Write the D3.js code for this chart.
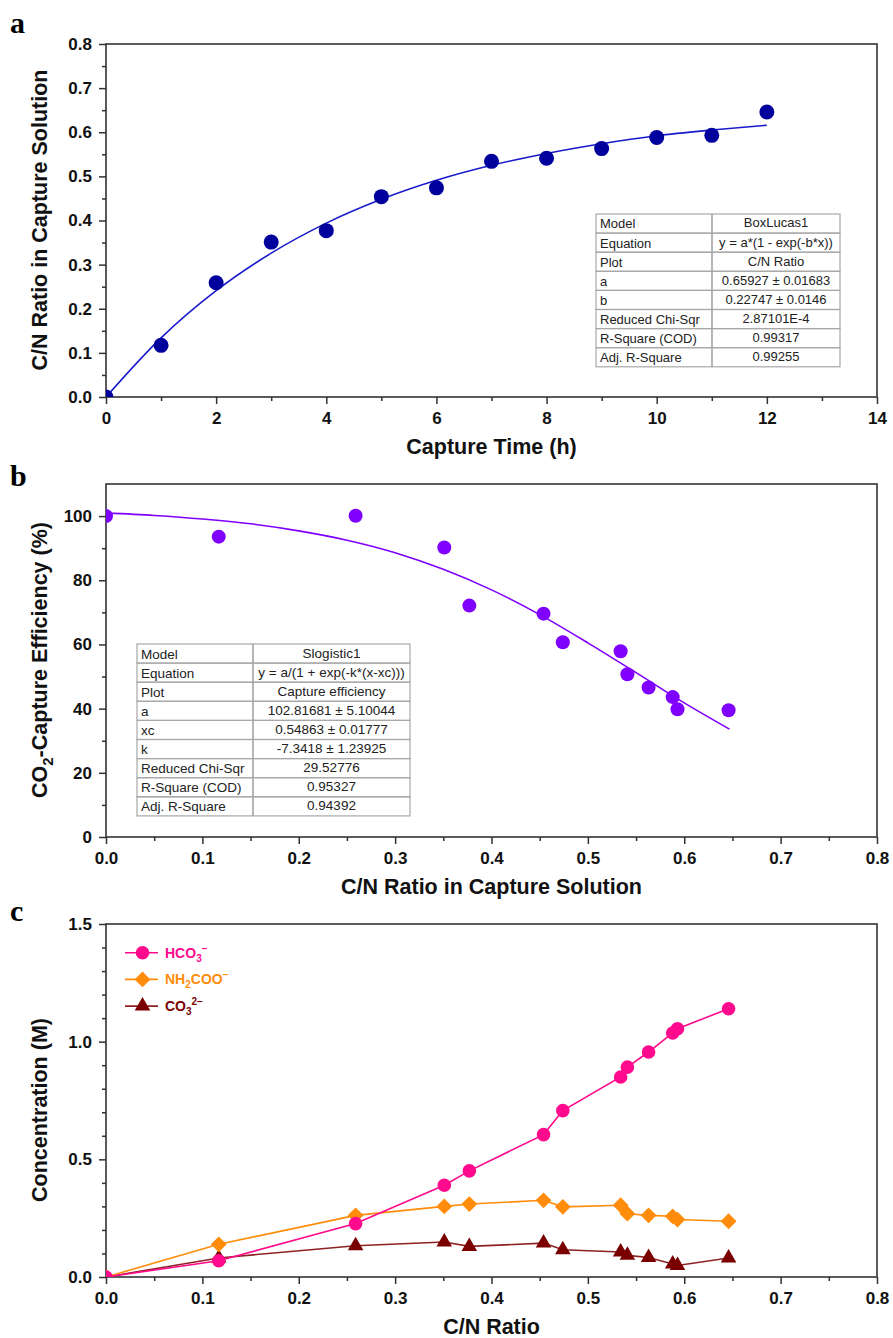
<!DOCTYPE html>
<html>
<head>
<meta charset="utf-8">
<script src="https://cdn.jsdelivr.net/npm/d3@7"></script>
<style>
  body { margin: 0; background: #fff; }
  svg { display: block; font-family: 'Liberation Sans', Arial, sans-serif; }
</style>
</head>
<body>
<div id="chart"></div>
<script>
// ---- panel a : C/N ratio vs capture time
const captureTime = [0, 1, 2, 3, 4, 5, 6, 7, 8, 9, 10, 11, 12]
const cnRatio = [0, 0.117, 0.259, 0.351, 0.377, 0.454, 0.474, 0.534, 0.541, 0.563, 0.588, 0.593, 0.646]
// BoxLucas1 fit
const fitATime = [0, 1, 2, 3, 4, 5, 6, 7, 8, 9, 10, 11, 12]
const fitARatio = [0, 0.134, 0.241, 0.326, 0.394, 0.448, 0.491, 0.525, 0.552, 0.574, 0.592, 0.605, 0.616]
const tableA = [
  ['Model', 'BoxLucas1'],
  ['Equation', 'y = a*(1 - exp(-b*x))'],
  ['Plot', 'C/N Ratio'],
  ['a', '0.65927 \u00b1 0.01683'],
  ['b', '0.22747 \u00b1 0.0146'],
  ['Reduced Chi-Sqr', '2.87101E-4'],
  ['R-Square (COD)', '0.99317'],
  ['Adj. R-Square', '0.99255']
]

// ---- panel b : capture efficiency vs C/N ratio (x = cnRatio)
const efficiency = [100, 93.6, 100.1, 90.2, 72.1, 69.6, 60.7, 57.9, 50.7, 46.6, 43.6, 39.8, 39.5]
// Slogistic1 fit
const fitBRatio = [0, 0.05, 0.1, 0.15, 0.2, 0.25, 0.3, 0.35, 0.4, 0.45, 0.5, 0.55, 0.6, 0.647]
const fitBEff = [101.0, 100.2, 99.1, 97.6, 95.4, 92.5, 88.6, 83.4, 77.0, 69.3, 60.5, 51.2, 41.8, 33.6]
const tableB = [
  ['Model', 'Slogistic1'],
  ['Equation', 'y = a/(1 + exp(-k*(x-xc)))'],
  ['Plot', 'Capture efficiency'],
  ['a', '102.81681 \u00b1 5.10044'],
  ['xc', '0.54863 \u00b1 0.01777'],
  ['k', '-7.3418 \u00b1 1.23925'],
  ['Reduced Chi-Sqr', '29.52776'],
  ['R-Square (COD)', '0.95327'],
  ['Adj. R-Square', '0.94392']
]

// ---- panel c : species concentration vs C/N ratio (x = cnRatio)
const hco3 = [0, 0.069, 0.227, 0.390, 0.451, 0.605, 0.707, 0.850, 0.892, 0.956, 1.037, 1.055, 1.140]
const nh2coo = [0, 0.139, 0.262, 0.300, 0.310, 0.326, 0.298, 0.305, 0.269, 0.262, 0.258, 0.244, 0.237]
const co3 = [0, 0.081, 0.133, 0.149, 0.130, 0.144, 0.116, 0.106, 0.092, 0.083, 0.055, 0.049, 0.081]

const width = 893
const height = 1338
const left = 106
const right = 877
const panelHeight = 353
const frameColor = '#333'

const svg = d3
  .select('#chart')
  .append('svg')
  .attr('width', width)
  .attr('height', height)

function drawPanel(opts) {
  const g = svg.append('g').attr('transform', 'translate(0,' + opts.top + ')')
  const x = d3.scaleLinear().domain(opts.xDomain).range([left, right])
  const y = d3.scaleLinear().domain(opts.yDomain).range([panelHeight, 0])

  g.append('clipPath')
    .attr('id', 'clip-' + opts.letter)
    .append('rect')
    .attr('x', left)
    .attr('y', 0)
    .attr('width', right - left)
    .attr('height', panelHeight)

  // minor ticks
  g.append('g')
    .attr('transform', 'translate(0,' + panelHeight + ')')
    .call(d3.axisBottom(x).tickValues(opts.xMinor).tickSize(4).tickFormat(''))
  g.append('g')
    .attr('transform', 'translate(' + left + ',0)')
    .call(d3.axisLeft(y).tickValues(opts.yMinor).tickSize(4).tickFormat(''))

  g.append('g')
    .attr('class', 'axis')
    .attr('transform', 'translate(0,' + panelHeight + ')')
    .call(d3.axisBottom(x).tickValues(opts.xMajor).tickSize(7).tickPadding(8).tickFormat(opts.xFormat))
  g.append('g')
    .attr('class', 'axis')
    .attr('transform', 'translate(' + left + ',0)')
    .call(d3.axisLeft(y).tickValues(opts.yMajor).tickSize(7).tickPadding(7).tickFormat(opts.yFormat))

  g.selectAll('.domain').remove()
  g.selectAll('.tick line').attr('stroke', frameColor).attr('stroke-width', 1.5)
  g.selectAll('.axis text')
    .attr('font-size', 17)
    .attr('font-weight', 'bold')
    .attr('fill', '#111')
    .attr('font-family', "'Liberation Sans', Arial, sans-serif")

  g.append('rect')
    .attr('x', left)
    .attr('y', 0)
    .attr('width', right - left)
    .attr('height', panelHeight)
    .attr('fill', 'none')
    .attr('stroke', frameColor)
    .attr('stroke-width', 1.6)

  // panel letter
  g.append('text')
    .attr('x', 10)
    .attr('y', opts.letterY)
    .attr('font-family', "'Liberation Serif', 'Times New Roman', serif")
    .attr('font-weight', 'bold')
    .attr('font-size', 30)
    .text(opts.letter)

  // x title
  g.append('text')
    .attr('x', (left + right) / 2)
    .attr('y', panelHeight + 57)
    .attr('text-anchor', 'middle')
    .attr('font-size', 21.5)
    .attr('font-weight', 'bold')
    .attr('fill', '#111')
    .text(opts.xTitle)

  return { g, x, y }
}

function drawTable(g, rows, box) {
  const t = g.append('g')
  t.append('rect')
    .attr('x', box.x)
    .attr('y', box.y)
    .attr('width', box.w)
    .attr('height', box.rowH * rows.length)
    .attr('fill', '#fff')
  const row = t
    .selectAll('.row')
    .data(rows)
    .enter()
    .append('g')
    .attr('transform', (d, i) => 'translate(0,' + (box.y + i * box.rowH) + ')')
  row.append('rect')
    .attr('x', box.x)
    .attr('width', box.split - box.x)
    .attr('height', box.rowH)
    .attr('fill', 'none')
    .attr('stroke', '#a8a8a8')
    .attr('stroke-width', 1.2)
  row.append('rect')
    .attr('x', box.split)
    .attr('width', box.x + box.w - box.split)
    .attr('height', box.rowH)
    .attr('fill', 'none')
    .attr('stroke', '#a8a8a8')
    .attr('stroke-width', 1.2)
  row.append('text')
    .attr('x', box.x + 4)
    .attr('y', box.rowH / 2 + box.font * 0.38)
    .attr('font-size', box.font)
    .attr('fill', '#222')
    .text(d => d[0])
  row.append('text')
    .attr('x', (box.split + box.x + box.w) / 2)
    .attr('y', box.rowH / 2 + box.font * 0.3)
    .attr('text-anchor', 'middle')
    .attr('font-size', box.font)
    .attr('fill', '#222')
    .text(d => d[1])
}

function yTitle(g, cy, parts) {
  const t = g
    .append('text')
    .attr('transform', 'translate(47,' + cy + ') rotate(-90)')
    .attr('text-anchor', 'middle')
    .attr('font-size', 21.5)
    .attr('font-weight', 'bold')
    .attr('fill', '#111')
  parts.forEach(p => {
    t.append('tspan')
      .attr('dy', p.dy || 0)
      .attr('font-size', p.size || 21.5)
      .text(p.text)
  })
}

const fmt1 = d3.format('.1f')
const range = (a, b, s) => d3.range(a, b + s / 2, s).map(v => +v.toFixed(3))

// ================= panel a
const pa = drawPanel({
  top: 44,
  letter: 'a',
  letterY: -11,
  xDomain: [0, 14],
  yDomain: [0, 0.8],
  xMajor: range(0, 14, 2),
  xMinor: range(1, 13, 2),
  yMajor: range(0, 0.8, 0.1),
  yMinor: range(0.05, 0.75, 0.1),
  xFormat: d3.format('d'),
  yFormat: fmt1,
  xTitle: 'Capture Time (h)'
})
yTitle(pa.g, 176, [{ text: 'C/N Ratio in Capture Solution' }])

pa.g.append('path')
  .datum(fitATime.map((t, i) => [t, fitARatio[i]]))
  .attr('d', d3.line().x(d => pa.x(d[0])).y(d => pa.y(d[1])).curve(d3.curveMonotoneX))
  .attr('fill', 'none')
  .attr('stroke', '#1a1acc')
  .attr('stroke-width', 1.6)
  .attr('clip-path', 'url(#clip-a)')

pa.g.append('g')
  .attr('clip-path', 'url(#clip-a)')
  .selectAll('circle')
  .data(captureTime)
  .enter()
  .append('circle')
  .attr('cx', d => pa.x(d))
  .attr('cy', (d, i) => pa.y(cnRatio[i]))
  .attr('r', 7.5)
  .attr('fill', '#00009c')

drawTable(pa.g, tableA, { x: 596, y: 170, w: 244, split: 712, rowH: 19.1, font: 13 })

// ================= panel b
const pb = drawPanel({
  top: 484,
  letter: 'b',
  letterY: 2,
  xDomain: [0, 0.8],
  yDomain: [0, 110],
  xMajor: range(0, 0.8, 0.1),
  xMinor: range(0.05, 0.75, 0.1),
  yMajor: range(0, 100, 20),
  yMinor: range(10, 90, 20),
  xFormat: fmt1,
  yFormat: d3.format('d'),
  xTitle: 'C/N Ratio in Capture Solution'
})
yTitle(pb.g, 176, [
  { text: 'CO' },
  { text: '2', size: 15, dy: 6 },
  { text: '-Capture Efficiency (%)', dy: -6 }
])

pb.g.append('path')
  .datum(fitBRatio.map((r, i) => [r, fitBEff[i]]))
  .attr('d', d3.line().x(d => pb.x(d[0])).y(d => pb.y(d[1])).curve(d3.curveMonotoneX))
  .attr('fill', 'none')
  .attr('stroke', '#8000ff')
  .attr('stroke-width', 1.6)
  .attr('clip-path', 'url(#clip-b)')

pb.g.append('g')
  .attr('clip-path', 'url(#clip-b)')
  .selectAll('circle')
  .data(cnRatio)
  .enter()
  .append('circle')
  .attr('cx', d => pb.x(d))
  .attr('cy', (d, i) => pb.y(efficiency[i]))
  .attr('r', 7)
  .attr('fill', '#8000ff')

drawTable(pb.g, tableB, { x: 137, y: 160, w: 273, split: 253, rowH: 19.1, font: 13.5 })

// ================= panel c
const pc = drawPanel({
  top: 924,
  letter: 'c',
  letterY: -3,
  xDomain: [0, 0.8],
  yDomain: [0, 1.5],
  xMajor: range(0, 0.8, 0.1),
  xMinor: range(0.05, 0.75, 0.1),
  yMajor: [0, 0.5, 1.0, 1.5],
  yMinor: [0.1, 0.2, 0.3, 0.4, 0.6, 0.7, 0.8, 0.9, 1.1, 1.2, 1.3, 1.4],
  xFormat: fmt1,
  yFormat: fmt1,
  xTitle: 'C/N Ratio'
})
yTitle(pc.g, 186, [{ text: 'Concentration (M)' }])

const species = [
  { key: 'hco3', values: hco3, color: '#ff0a8c', line: '#ff0a8c', shape: 'circle' },
  { key: 'nh2coo', values: nh2coo, color: '#ff8c0a', line: '#ff8c0a', shape: 'diamond' },
  { key: 'co3', values: co3, color: '#7a0000', line: '#8e2222', shape: 'triangle' }
]

const markerPath = {
  circle: d3.symbol().type(d3.symbolCircle).size(Math.PI * 6.8 * 6.8)(),
  diamond: d3.symbol().type(d3.symbolSquare).size(125)(),
  triangle: d3.symbol().type(d3.symbolTriangle).size(105)()
}

const lineC = d3
  .line()
  .x(d => pc.x(d[0]))
  .y(d => pc.y(d[1]))

const cLayer = pc.g.append('g').attr('clip-path', 'url(#clip-c)')

// draw bottom species first, HCO3 on top
species.slice().reverse().forEach(s => {
  const pts = cnRatio.map((r, i) => [r, s.values[i]])
  cLayer.append('path')
    .datum(pts)
    .attr('d', lineC)
    .attr('fill', 'none')
    .attr('stroke', s.line)
    .attr('stroke-width', 1.6)
  cLayer.selectAll('.m-' + s.key)
    .data(pts)
    .enter()
    .append('path')
    .attr('class', 'm-' + s.key)
    .attr('d', markerPath[s.shape])
    .attr('transform', d =>
      'translate(' + pc.x(d[0]) + ',' + pc.y(d[1]) + ')' + (s.shape === 'diamond' ? ' rotate(45)' : ''))
    .attr('fill', s.color)
})

// legend
const legendLabels = [
  [{ t: 'HCO' }, { t: '3', sub: true }, { t: '\u2212', sup: true }],
  [{ t: 'NH' }, { t: '2', sub: true }, { t: 'COO' }, { t: '\u2212', sup: true }],
  [{ t: 'CO' }, { t: '3', sub: true }, { t: '2\u2212', sup: true }]
]
const legend = pc.g
  .selectAll('.legend')
  .data(species)
  .enter()
  .append('g')
  .attr('transform', (d, i) => 'translate(0,' + (28.7 + i * 26.7) + ')')
legend.append('line')
  .attr('x1', 125)
  .attr('x2', 158)
  .attr('stroke', d => d.line)
  .attr('stroke-width', 1.6)
legend.append('path')
  .attr('d', d => markerPath[d.shape])
  .attr('transform', d => 'translate(142.5,0)' + (d.shape === 'diamond' ? ' rotate(45)' : ''))
  .attr('fill', d => d.color)
legend.each(function(d, i) {
  const t = d3.select(this)
    .append('text')
    .attr('x', 165)
    .attr('y', 5)
    .attr('font-size', 14)
    .attr('font-weight', 'bold')
    .attr('fill', d.color)
  let shift = 0
  legendLabels[i].forEach(p => {
    const target = p.sub ? 4 : p.sup ? -6 : 0
    t.append('tspan')
      .attr('dy', target - shift)
      .attr('font-size', p.sub || p.sup ? 10 : 14)
      .text(p.t)
    shift = target
  })
})
</script>
</body>
</html>
